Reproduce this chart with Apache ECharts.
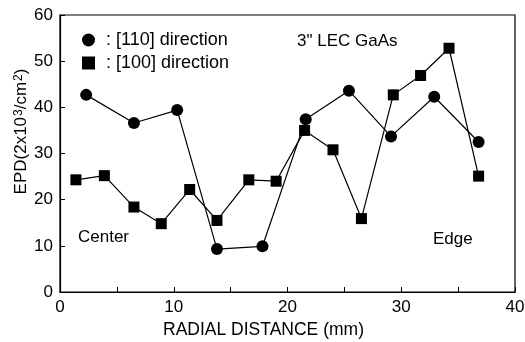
<!DOCTYPE html>
<html>
<head>
<meta charset="utf-8">
<script src="https://cdn.jsdelivr.net/npm/echarts@6/dist/echarts.min.js"></script>
<style>
  html, body { margin: 0; padding: 0; background: #fff; }
  #chart { width: 525px; height: 342px; }
</style>
</head>
<body>
<div id="chart"></div>
<script>
// [110] direction (circles)
const dir110X = [2.3, 6.5, 10.3, 13.8, 17.8, 21.6, 25.4, 29.1, 32.9, 36.8]
const dir110Y = [42.7, 36.6, 39.4, 9.3, 9.9, 37.4, 43.6, 33.7, 42.3, 32.5]
// [100] direction (squares)
const dir100X = [1.4, 3.9, 6.5, 8.9, 11.4, 13.8, 16.6, 19.0, 21.5, 24.0, 26.5, 29.3, 31.7, 34.2, 36.8]
const dir100Y = [24.3, 25.2, 18.4, 14.8, 22.2, 15.5, 24.3, 24.0, 35.0, 30.8, 15.9, 42.7, 46.9, 52.8, 25.1]
const xTicks = [0, 10, 20, 30, 40]
const yTicks = [0, 10, 20, 30, 40, 50, 60]

const font = 'Liberation Sans, Arial, Helvetica, sans-serif'
const pair = (xs, ys) => xs.map((x, i) => [x, ys[i]])

const myChart = echarts.init(document.getElementById('chart'))
const option = {
  animation: false,
  textStyle: { fontFamily: font, color: '#000' },
  grid: {
    left: 60,
    right: 10,
    top: 15,
    bottom: 50,
    containLabel: false,
    outerBoundsMode: 'none',
    show: true,
    borderColor: '#000',
    borderWidth: 1.2
  },
  legend: {
    orient: 'vertical',
    left: 77,
    top: 26,
    itemWidth: 13,
    itemHeight: 13,
    itemGap: 5,
    formatter: name => ': ' + name,
    textStyle: { fontFamily: font, fontSize: 18, color: '#000', padding: [0, 0, 0, 6] },
    data: [
      { name: '[110] direction', icon: 'circle' },
      { name: '[100] direction', icon: 'rect' }
    ]
  },
  xAxis: {
    type: 'value',
    min: xTicks[0],
    max: xTicks[xTicks.length - 1],
    interval: 10,
    name: 'RADIAL DISTANCE (mm)',
    nameLocation: 'middle',
    nameGap: 29,
    nameMoveOverlap: false,
    nameTextStyle: { fontFamily: font, fontSize: 17.5, color: '#000', padding: [0, 48, 0, 0] },
    axisLine: { lineStyle: { color: '#000', width: 1.2 } },
    axisTick: { inside: true, length: 5, lineStyle: { color: '#000' } },
    minorTick: { show: true, splitNumber: 2, length: 5, lineStyle: { color: '#000' } },
    axisLabel: { fontFamily: font, fontSize: 17, color: '#000', margin: 7 },
    splitLine: { show: false }
  },
  yAxis: {
    type: 'value',
    min: yTicks[0],
    max: yTicks[yTicks.length - 1],
    interval: 10,
    name: 'EPD(2x10{sup|3}/cm{sup|2})',
    nameLocation: 'middle',
    nameGap: 30,
    nameMoveOverlap: false,
    nameTextStyle: {
      fontFamily: font,
      fontSize: 17,
      color: '#000',
      padding: [0, 0, 0, 44],
      rich: {
        sup: { fontFamily: font, fontSize: 12, color: '#000', verticalAlign: 'top', lineHeight: 12, padding: [0, 0, 8, 1] }
      }
    },
    axisLine: { lineStyle: { color: '#000', width: 1.2 } },
    axisTick: { inside: true, length: 5, lineStyle: { color: '#000' } },
    axisLabel: { fontFamily: font, fontSize: 17, color: '#000', margin: 7 },
    splitLine: { show: false }
  },
  series: [
    {
      name: '[110] direction',
      type: 'line',
      data: pair(dir110X, dir110Y),
      symbol: 'circle',
      symbolSize: 12,
      itemStyle: { color: '#000' },
      lineStyle: { color: '#000', width: 1.2 }
    },
    {
      name: '[100] direction',
      type: 'line',
      data: pair(dir100X, dir100Y),
      symbol: 'rect',
      symbolSize: 11,
      itemStyle: { color: '#000' },
      lineStyle: { color: '#000', width: 1.2 }
    }
  ],
  graphic: [
    {
      type: 'text', left: 297, top: 33,
      style: { text: '3" LEC GaAs', font: '17px ' + font, fill: '#000' }
    },
    {
      type: 'text', left: 78, top: 229,
      style: { text: 'Center', font: '17px ' + font, fill: '#000' }
    },
    {
      type: 'text', left: 433, top: 231,
      style: { text: 'Edge', font: '17px ' + font, fill: '#000' }
    }
  ]
}
myChart.setOption(option)
</script>
</body>
</html>
